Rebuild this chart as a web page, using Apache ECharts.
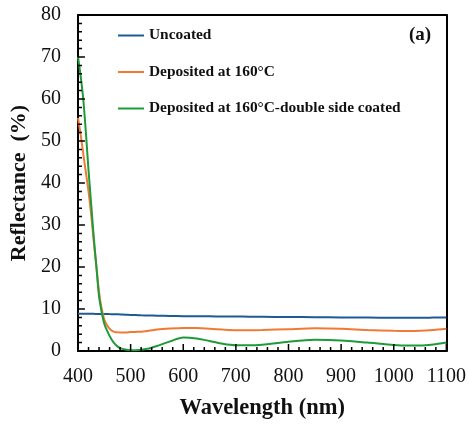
<!DOCTYPE html>
<html>
<head>
<meta charset="utf-8">
<script src="https://cdn.jsdelivr.net/npm/echarts@6/dist/echarts.min.js"></script>
<style>html,body{margin:0;padding:0;background:#fff}#c{width:469px;height:425px}</style>
</head>
<body>
<div id="c"></div>
<script>
const wavelengths = [400,405,410,415,420,425,430,435,440,445,450,455,460,465,470,475,480,490,500,510,520,535,550,575,600,625,650,675,700,725,750,800,850,900,950,1000,1025,1050,1075,1100];
const uncoated   = [8.9,8.89,8.88,8.87,8.86,8.85,8.84,8.83,8.82,8.81,8.8,8.79,8.78,8.77,8.75,8.74,8.72,8.66,8.6,8.55,8.5,8.45,8.4,8.35,8.3,8.27,8.25,8.22,8.2,8.18,8.15,8.1,8.05,8.0,7.95,7.9,7.9,7.9,7.95,8.0];
const dep160     = [55.5,51.5,47,42.5,38,32.5,26,20,14,10,7.5,6.2,5.3,4.8,4.5,4.45,4.4,4.4,4.5,4.55,4.6,4.8,5.1,5.35,5.5,5.45,5.3,5.1,4.95,4.95,5.0,5.2,5.4,5.3,5.0,4.8,4.75,4.8,5.0,5.3];
const dep160dbl  = [70,65.5,60,52,43,35,27,20,13,9.3,6.5,4.9,3.6,2.5,1.7,1.1,0.7,0.35,0.2,0.2,0.3,0.6,1.2,2.3,3.2,3.0,2.4,1.7,1.35,1.35,1.5,2.2,2.65,2.5,2.0,1.45,1.3,1.3,1.55,2.0];
const seriesNames = ['Uncoated','Deposited at 160°C','Deposited at 160°C-double side coated'];
const xTicks = [400,1100,100];
const yTicks = [0,80,10];
const minorSplit = 5;

const W = 469, H = 425;
const grid = {left:78, right:19, top:15, bottom:73};
const plotW = W - grid.left - grid.right, plotH = H - grid.top - grid.bottom;
const pxPerX = plotW / (xTicks[1]-xTicks[0]);
const pxPerY = plotH / (yTicks[1]-yTicks[0]);

const pair = v => wavelengths.map((w,i)=>[w,v[i]]);
const font = 'Liberation Serif';

// inward tick marks as short segments in data space (lengths converted from px)
const tickSeg = [];
[[xTicks,0],[yTicks,1]].forEach(([t,ax])=>{
  const step = t[2]/minorSplit;
  for (let k=0; t[0]+k*step <= t[1]+1e-9; k++) {
    const v = t[0]+k*step;
    const len = (k%minorSplit===0) ? 7 : 4;
    if (ax===0) tickSeg.push([v, yTicks[0]], [v, yTicks[0]+len/pxPerY], [v, '-']);
    else tickSeg.push([xTicks[0], v], [xTicks[0]+len/pxPerX, v], ['-', v]);
  }
});

const chart = echarts.init(document.getElementById('c'));
const mk = (name, data, color) => ({
  name, type:'line', data: pair(data), showSymbol:false, smooth:0.25,
  lineStyle:{color, width:2}, itemStyle:{color}
});
const boxAxis = (pos) => ({
  position:pos, axisLine:{show:true, onZero:false, lineStyle:{color:'#000',width:2}},
  axisTick:{show:false}, axisLabel:{show:false}, splitLine:{show:false}
});
chart.setOption({
  animation:false,
  grid:Object.assign({show:false}, grid),
  legend:{
    orient:'vertical', left:118, top:28, padding:0, itemWidth:26, itemHeight:14, itemGap:21.5,
    icon:'path://M0,6L26,6L26,8L0,8Z',
    textStyle:{fontFamily:font, fontWeight:'bold', fontSize:15.4, color:'#111'},
    data: seriesNames
  },
  graphic:[{type:'text', left:409, top:26, style:{text:'(a)', font:'bold 19px "Liberation Serif"', fill:'#111'}}],
  xAxis:[{
    type:'value', position:'bottom', min:xTicks[0], max:xTicks[1], interval:xTicks[2],
    name:'Wavelength (nm)', nameLocation:'middle', nameGap:46,
    nameTextStyle:{fontFamily:font, fontWeight:'bold', fontSize:22.5, color:'#111'},
    axisLine:{show:true, onZero:false, lineStyle:{color:'#000',width:2}},
    axisTick:{show:false}, minorTick:{show:false},
    axisLabel:{fontFamily:font, fontSize:20, color:'#111', margin:16, formatter:v=>String(v)},
    splitLine:{show:false}
  }, Object.assign({type:'value', min:xTicks[0], max:xTicks[1]}, boxAxis('top'))],
  yAxis:[{
    type:'value', position:'left', min:yTicks[0], max:yTicks[1], interval:yTicks[2],
    name:'Reflectance  (%)', nameLocation:'middle', nameGap:41,
    nameTextStyle:{fontFamily:font, fontWeight:'bold', fontSize:22, color:'#111'},
    axisLine:{show:true, onZero:false, lineStyle:{color:'#000',width:2}},
    axisTick:{show:false}, minorTick:{show:false},
    axisLabel:{fontFamily:font, fontSize:20, color:'#111', margin:17},
    splitLine:{show:false}
  }, Object.assign({type:'value', min:yTicks[0], max:yTicks[1]}, boxAxis('right'))],
  series:[
    mk(seriesNames[0], uncoated, '#1F5A94'),
    mk(seriesNames[1], dep160, '#F07A35'),
    mk(seriesNames[2], dep160dbl, '#1E9A3A'),
    {name:'ticks', type:'line', data:tickSeg, showSymbol:false, silent:true, connectNulls:false,
     clip:false, z:10, lineStyle:{color:'#000', width:1.5, cap:'butt'}, itemStyle:{color:'#000'}}
  ]
});
</script>
</body>
</html>
